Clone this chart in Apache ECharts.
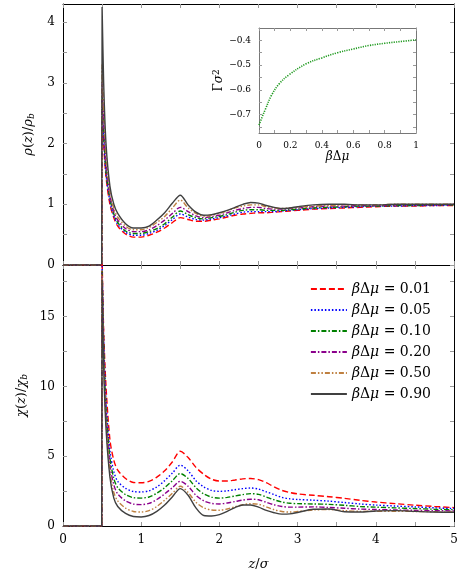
<!DOCTYPE html>
<html>
<head>
<meta charset="utf-8">
<script src="https://cdn.jsdelivr.net/npm/echarts@6/dist/echarts.min.js"></script>
<style>
  html, body { margin: 0; padding: 0; background: #fff; }
  #chart { width: 470px; height: 583px; }
</style>
</head>
<body>
<div id="chart"></div>
<script>
// z/sigma grid shared by every profile
var zGrid = [0, 0.495, 0.5, 0.52, 0.55, 0.6, 0.65, 0.7, 0.8, 0.9, 1.0,
	1.1, 1.2, 1.3, 1.4, 1.5, 1.6, 1.7, 1.8, 1.9, 2.0,
	2.1, 2.2, 2.3, 2.4, 2.5, 2.6, 2.7, 2.8, 2.9, 3.0,
	3.2, 3.4, 3.6, 3.8, 4.0,
	4.25, 4.5, 4.75, 5.0];

var muLabels = ['0.01', '0.05', '0.10', '0.20', '0.50', '0.90'];

// rho(z)/rho_b
var rhoRed    = [0, 0, 2.6, 2.0, 1.45, 1.0, 0.78, 0.64, 0.51, 0.46, 0.46,
	0.49, 0.54, 0.61, 0.7, 0.78, 0.75, 0.72, 0.72, 0.74, 0.76,
	0.79, 0.82, 0.84, 0.85, 0.86, 0.86, 0.87, 0.88, 0.89, 0.9,
	0.92, 0.93, 0.94, 0.95, 0.96,
	0.97, 0.97, 0.98, 0.98];
var rhoBlue   = [0, 0, 2.7, 2.1, 1.5, 1.05, 0.81, 0.67, 0.54, 0.49, 0.49,
	0.52, 0.57, 0.65, 0.75, 0.84, 0.79, 0.75, 0.74, 0.76, 0.78,
	0.81, 0.84, 0.87, 0.88, 0.88, 0.88, 0.88, 0.89, 0.9, 0.91,
	0.93, 0.94, 0.95, 0.96, 0.97,
	0.97, 0.98, 0.98, 0.99];
var rhoGreen  = [0, 0, 2.8, 2.2, 1.55, 1.1, 0.84, 0.7, 0.56, 0.52, 0.52,
	0.55, 0.6, 0.68, 0.79, 0.89, 0.83, 0.78, 0.76, 0.78, 0.8,
	0.83, 0.87, 0.9, 0.91, 0.91, 0.9, 0.9, 0.9, 0.91, 0.92,
	0.94, 0.95, 0.96, 0.97, 0.97,
	0.98, 0.98, 0.99, 0.99];
var rhoPurple = [0, 0, 3.0, 2.35, 1.65, 1.15, 0.88, 0.74, 0.6, 0.55, 0.55,
	0.58, 0.65, 0.74, 0.85, 0.95, 0.88, 0.81, 0.78, 0.8, 0.82,
	0.86, 0.9, 0.93, 0.95, 0.95, 0.93, 0.92, 0.92, 0.93, 0.94,
	0.96, 0.97, 0.97, 0.98, 0.98,
	0.99, 0.99, 0.99, 1.0];
var rhoBrown  = [0, 0, 3.3, 2.6, 1.8, 1.22, 0.93, 0.79, 0.64, 0.58, 0.58,
	0.62, 0.7, 0.8, 0.94, 1.07, 0.94, 0.85, 0.8, 0.82, 0.85,
	0.89, 0.94, 0.97, 0.99, 0.99, 0.96, 0.94, 0.93, 0.94, 0.95,
	0.97, 0.98, 0.99, 0.99, 0.99,
	1.0, 1.0, 1.0, 1.0];
var rhoBlack  = [0, 0, 4.25, 3.0, 2.0, 1.3, 1.0, 0.85, 0.68, 0.61, 0.61,
	0.64, 0.74, 0.86, 1.02, 1.15, 0.99, 0.87, 0.82, 0.83, 0.86,
	0.9, 0.95, 1.0, 1.03, 1.02, 0.98, 0.95, 0.93, 0.94, 0.96,
	0.99, 1.0, 1.0, 0.99, 0.99,
	1.0, 1.0, 1.0, 1.0];

// chi(z)/chi_b
var chiRed    = [0, 0, 19.0, 14, 10, 6.2, 4.7, 4.0, 3.4, 3.12, 3.1,
	3.2, 3.5, 3.95, 4.6, 5.36, 4.9, 4.2, 3.7, 3.35, 3.22,
	3.22, 3.3, 3.38, 3.4, 3.32, 3.1, 2.8, 2.55, 2.4, 2.3,
	2.2, 2.1, 1.98, 1.84, 1.72,
	1.6, 1.49, 1.4, 1.32];
var chiBlue   = [0, 0, 18.6, 13.5, 9, 5.4, 3.9, 3.2, 2.7, 2.47, 2.44,
	2.52, 2.8, 3.25, 3.8, 4.36, 3.95, 3.25, 2.8, 2.55, 2.48,
	2.52, 2.6, 2.68, 2.72, 2.65, 2.45, 2.25, 2.05, 1.95, 1.9,
	1.85, 1.78, 1.68, 1.58, 1.5,
	1.43, 1.37, 1.3, 1.25];
var chiGreen  = [0, 0, 18.3, 13, 8.5, 4.9, 3.4, 2.75, 2.25, 2.03, 2.0,
	2.08, 2.35, 2.75, 3.25, 3.76, 3.4, 2.75, 2.3, 2.07, 2.0,
	2.05, 2.15, 2.25, 2.32, 2.27, 2.08, 1.88, 1.72, 1.63, 1.6,
	1.58, 1.55, 1.48, 1.4, 1.35,
	1.3, 1.25, 1.2, 1.17];
var chiPurple = [0, 0, 18.1, 12.5, 8, 4.4, 2.95, 2.3, 1.8, 1.57, 1.53,
	1.62, 1.9, 2.3, 2.75, 3.2, 2.85, 2.2, 1.8, 1.62, 1.58,
	1.65, 1.75, 1.86, 1.92, 1.88, 1.7, 1.52, 1.4, 1.35, 1.35,
	1.37, 1.33, 1.27, 1.21, 1.18,
	1.15, 1.12, 1.1, 1.08];
var chiBrown  = [0, 0, 17.9, 12, 7.5, 3.9, 2.4, 1.8, 1.28, 1.04, 1.0,
	1.1, 1.4, 1.85, 2.35, 2.85, 2.4, 1.7, 1.3, 1.15, 1.13,
	1.22, 1.38, 1.52, 1.6, 1.56, 1.37, 1.17, 1.04, 1.0, 1.04,
	1.15, 1.18, 1.1, 1.05, 1.06,
	1.06, 1.04, 1.02, 1.0];
var chiBlack  = [0, 0, 17.6, 11.5, 7, 3.5, 2.0, 1.4, 0.9, 0.68, 0.65,
	0.75, 1.05, 1.5, 2.1, 2.68, 2.2, 1.3, 0.75, 0.72, 0.82,
	1.05, 1.32, 1.5, 1.5, 1.35, 1.12, 0.95, 0.85, 0.87, 0.97,
	1.2, 1.22, 1.02, 1.0, 1.08,
	1.1, 1.05, 1.0, 0.98];

// inset: Gamma sigma^2 vs beta Delta mu
var gammaX = [0, 0.02, 0.04, 0.08, 0.13, 0.19, 0.3, 0.4, 0.5, 0.6, 0.7, 0.8, 0.9, 1.0];
var gammaY = [-0.743, -0.71, -0.68, -0.622, -0.575, -0.54, -0.495, -0.471, -0.45, -0.435, -0.421, -0.412, -0.405, -0.398];

// ticks
var zTicks = [0, 0.5, 1, 1.5, 2, 2.5, 3, 3.5, 4, 4.5, 5];
var zLabels = [0, 1, 2, 3, 4, 5];
var rhoTicks = [0, 0.5, 1, 1.5, 2, 2.5, 3, 3.5, 4];
var rhoLabels = [0, 1, 2, 3, 4];
var chiTicks = [0, 2.5, 5, 7.5, 10, 12.5, 15, 17.5];
var chiLabels = [0, 5, 10, 15];
var muTicks = [0, 0.1, 0.2, 0.3, 0.4, 0.5, 0.6, 0.7, 0.8, 0.9, 1];
var muTickLabels = [0, 0.2, 0.4, 0.6, 0.8, 1];
var gammaTicks = [-0.75, -0.7, -0.65, -0.6, -0.55, -0.5, -0.45, -0.4];
var gammaLabels = [-0.7, -0.6, -0.5, -0.4];

var serif = 'DejaVu Serif';
var styles = [
	{ color: '#ff0000', type: [6, 3] },
	{ color: '#0000ff', type: [1.5, 2] },
	{ color: '#008000', type: [5, 2, 1.5, 2] },
	{ color: '#8b008b', type: [5, 2, 1.5, 2] },
	{ color: '#bf8040', type: [5, 2, 1.5, 2, 1.5, 2] },
	{ color: '#404040', type: 'solid' }
];
var rhoSets = [rhoRed, rhoBlue, rhoGreen, rhoPurple, rhoBrown, rhoBlack];
var chiSets = [chiRed, chiBlue, chiGreen, chiPurple, chiBrown, chiBlack];

function makeRich(size) {
	return {
		i: { fontFamily: serif, fontStyle: 'italic', fontSize: size, color: '#000' },
		s: { fontFamily: serif, fontStyle: 'italic', fontSize: Math.round(size * 0.7), color: '#000', padding: [6, 0, 0, 0] },
		t: { fontFamily: serif, fontSize: Math.round(size * 0.75), color: '#000', padding: [0, 0, 6, 0] }
	};
}

function pairs(xs, ys) {
	return xs.map(function (x, i) { return [x, ys[i]]; });
}

function frameAxis(gi, pos, min, max, ticks, labels, fmt, extra) {
	var ax = {
		type: 'value', gridIndex: gi, position: pos, min: min, max: max,
		axisLine: { show: true, onZero: false, lineStyle: { color: '#000', width: 1 } },
		axisTick: { show: true, inside: true, length: 4, customValues: ticks, lineStyle: { color: '#999' } },
		axisLabel: labels ? {
			show: true, customValues: labels, fontFamily: serif, fontSize: 12, color: '#000', margin: 8,
			formatter: fmt
		} : { show: false },
		splitLine: { show: false }
	};
	return Object.assign(ax, extra || {});
}

var chart = echarts.init(document.getElementById('chart'), null, { renderer: 'canvas' });

var series = [];
styles.forEach(function (st, k) {
	series.push({
		name: muLabels[k], type: 'line', xAxisIndex: 0, yAxisIndex: 0,
		data: pairs(zGrid, rhoSets[k]), showSymbol: false, symbol: 'none',
		smooth: 0.3, clip: true,
		lineStyle: { color: st.color, type: st.type, width: 1.4 },
		itemStyle: { color: st.color }
	});
});
styles.forEach(function (st, k) {
	series.push({
		name: muLabels[k], type: 'line', xAxisIndex: 2, yAxisIndex: 2,
		data: pairs(zGrid, chiSets[k]), showSymbol: false, symbol: 'none',
		smooth: 0.3, clip: true,
		lineStyle: { color: st.color, type: st.type, width: 1.4 },
		itemStyle: { color: st.color }
	});
});
series.push({
	name: 'gamma', type: 'line', xAxisIndex: 4, yAxisIndex: 4,
	data: pairs(gammaX, gammaY), showSymbol: false, symbol: 'none',
	smooth: 0.4,
	lineStyle: { color: '#1f9a1f', type: [1.2, 1.2], width: 1.6 }
});

var intFmt = function (v) { return String(Math.round(v)); };
var muFmt = function (v) { return (v === 0 || v === 1) ? String(v) : v.toFixed(1); };
var gFmt = function (v) { return '\u2212' + Math.abs(v).toFixed(1); };

var insetAxis = function (gi, pos, min, max, ticks, labels, fmt) {
	var ax = frameAxis(gi, pos, min, max, ticks, labels, fmt);
	ax.axisLine.lineStyle.color = '#777';
	ax.axisTick.length = 3;
	if (labels) { ax.axisLabel.fontSize = 9; ax.axisLabel.margin = 8; }
	return ax;
};

var option = {
	backgroundColor: '#fff',
	animation: false,
	grid: [
		{ left: 63, top: 4, width: 391, height: 261 },
		{ left: 63, top: 265, width: 391, height: 261 },
		{ left: 259, top: 28, width: 157, height: 105, show: true, backgroundColor: '#fff', borderWidth: 0 }
	],
	legend: {
		data: muLabels, orient: 'vertical', right: 34, top: 277,
		itemWidth: 36, itemHeight: 10, itemGap: 7, align: 'left',
		itemStyle: { opacity: 0 },
		formatter: function (n) { return '{i|β}Δ{i|μ} = ' + n; },
		textStyle: { fontFamily: serif, fontSize: 14, color: '#000', rich: makeRich(14) }
	},
	xAxis: [
		frameAxis(0, 'bottom', 0, 5, zTicks, null),
		frameAxis(0, 'top', 0, 5, zTicks, null),
		frameAxis(1, 'bottom', 0, 5, zTicks, zLabels, intFmt, {
			name: '{i|z}/{i|σ}', nameLocation: 'middle', nameGap: 32,
			nameTextStyle: { fontFamily: serif, fontSize: 13, color: '#000', rich: makeRich(13) }
		}),
		frameAxis(1, 'top', 0, 5, zTicks, null),
		insetAxis(2, 'bottom', 0, 1, muTicks, muTickLabels, muFmt),
		insetAxis(2, 'top', 0, 1, muTicks, null)
	],
	yAxis: [
		frameAxis(0, 'left', 0, 4.3, rhoTicks, rhoLabels, intFmt, {
			name: '{i|ρ}({i|z})/{i|ρ}{s|b}', nameLocation: 'middle', nameGap: 26,
			nameTextStyle: { fontFamily: serif, fontSize: 13, color: '#000', rich: makeRich(13) }
		}),
		frameAxis(0, 'right', 0, 4.3, rhoTicks, null),
		frameAxis(1, 'left', 0, 18.7, chiTicks, chiLabels, intFmt, {
			name: '{i|χ}({i|z})/{i|χ}{s|b}', nameLocation: 'middle', nameGap: 26,
			nameTextStyle: { fontFamily: serif, fontSize: 13, color: '#000', rich: makeRich(13) }
		}),
		frameAxis(1, 'right', 0, 18.7, chiTicks, null),
		insetAxis(2, 'left', -0.775, -0.35, gammaTicks, gammaLabels, gFmt),
		insetAxis(2, 'right', -0.775, -0.35, gammaTicks, null)
	],
	series: series
};
option.xAxis[4].name = '{i|β}Δ{i|μ}';
option.xAxis[4].nameLocation = 'middle';
option.xAxis[4].nameGap = 17;
option.xAxis[4].nameTextStyle = { fontFamily: serif, fontSize: 12, color: '#000', rich: makeRich(12) };
option.yAxis[4].name = 'Γ{i|σ}{t|2}';
option.yAxis[4].nameLocation = 'middle';
option.yAxis[4].nameGap = 30;
option.yAxis[4].nameTextStyle = { fontFamily: serif, fontSize: 12, color: '#000', rich: makeRich(12) };

chart.setOption(option);
</script>
</body>
</html>
